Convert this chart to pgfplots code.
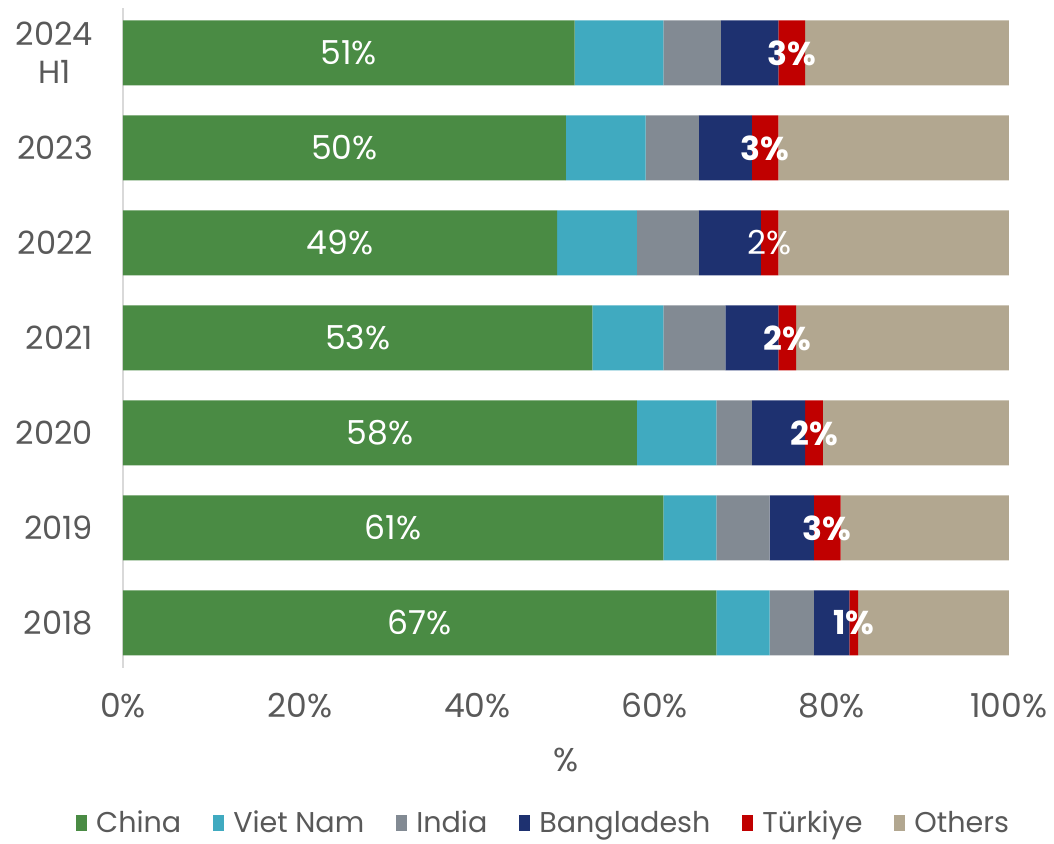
\documentclass[border=0pt]{standalone}
\usepackage{pgfplots}
\pgfplotsset{compat=1.18}
\usepackage{fontspec}
\setmainfont{Poppins}
\definecolor{cChina}{HTML}{4A8B44}
\definecolor{cVN}{HTML}{40AAC0}
\definecolor{cIndia}{HTML}{828A93}
\definecolor{cBang}{HTML}{1E3170}
\definecolor{cTur}{HTML}{C00000}
\definecolor{cOth}{HTML}{B2A790}
\definecolor{txt}{HTML}{595959}
\pgfplotsset{
  common/.style={
    width=443pt, height=330pt, scale only axis,
    xmin=0, xmax=100, ymin=-0.474, ymax=6.474,
  }
}
\begin{document}
\begin{tikzpicture}[font=\fontsize{16.5}{19}\selectfont]
\begin{axis}[common,
  xbar stacked, bar width=32.5pt,
  axis lines=left,
  x axis line style={draw=none},
  y axis line style={draw=black!15, line width=1pt, -},
  major tick length=0pt,
  xtick={0,20,40,60,80,100},
  xticklabels={0\%,20\%,40\%,60\%,80\%,100\%},
  ytick={0,1,2,3,4,5,6},
  yticklabels={2018,2019,2020,2021,2022,2023,{2024\\H1}},
  yticklabel style={align=center, anchor=east, xshift=-11.5pt, text=txt, font=\fontsize{16}{19}\selectfont},
  xticklabel style={anchor=center, yshift=-19pt, text=txt},
  xlabel={\%},
  xlabel style={at={(rel axis cs:0.5,0)}, anchor=center, yshift=-46pt, text=txt},
  legend style={at={(rel axis cs:0.476,-0.235)}, anchor=center, draw=none, font=\fontsize{14.3}{16}\selectfont, text=txt,
    /tikz/every odd column/.append style={column sep=2.5pt},
    /tikz/every even column/.append style={column sep=14pt}},
  legend columns=6,
  legend image code/.code={\fill[#1] (0pt,-4pt) rectangle (5.5pt,4pt);},
  clip=false,
]
\addplot[fill=cChina, draw=none] coordinates {(67,0) (61,1) (58,2) (53,3) (49,4) (50,5) (51,6)};
\addplot[fill=cVN, draw=none] coordinates {(6,0) (6,1) (9,2) (8,3) (9,4) (9,5) (10,6)};
\addplot[fill=cIndia, draw=none] coordinates {(5,0) (6,1) (4,2) (7,3) (7,4) (6,5) (6.5,6)};
\addplot[fill=cBang, draw=none] coordinates {(4,0) (5,1) (6,2) (6,3) (7,4) (6,5) (6.5,6)};
\addplot[fill=cTur, draw=none] coordinates {(1,0) (3,1) (2,2) (2,3) (2,4) (3,5) (3,6)};
\addplot[fill=cOth, draw=none] coordinates {(17,0) (19,1) (21,2) (24,3) (26,4) (26,5) (23,6)};
\legend{China, Viet Nam, India, Bangladesh, Türkiye, Others}
\path (rel axis cs:-0.1388,-0.2591) rectangle (rel axis cs:1.0508,1.0121);
\end{axis}
\begin{axis}[common, hide axis, clip=false]
\addplot[only marks, mark=none, nodes near coords, point meta=explicit symbolic,
  nodes near coords align=center,
  every node near coord/.style={anchor=center, text=white, font=\fontsize{16.5}{19}\selectfont}]
  coordinates {(33.5,0) [67\%] (30.5,1) [61\%] (29,2) [58\%] (26.5,3) [53\%] (24.5,4) [49\%] (25,5) [50\%] (25.5,6) [51\%]
  (82.5,0) [\textbf{1\%}] (79.5,1) [\textbf{3\%}] (78,2) [\textbf{2\%}] (75,3) [\textbf{2\%}] (73,4) [2\%] (72.5,5) [\textbf{3\%}] (75.5,6) [\textbf{3\%}]};
\end{axis}
\end{tikzpicture}
\end{document}
